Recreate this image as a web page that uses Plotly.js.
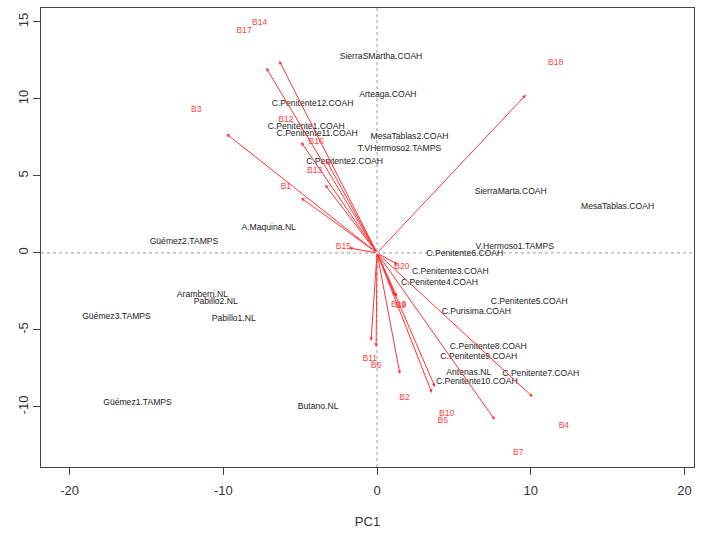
<!DOCTYPE html>
<html><head><meta charset="utf-8">
<script src="https://cdn.plot.ly/plotly-3.0.1.min.js"></script>
<style>html,body{margin:0;padding:0;background:#fff;}</style>
</head><body><div id="chart" style="width:722px;height:533px;"></div>
<script>
// Site scores (PC1, PC2)
const siteNames = ["SierraSMartha.COAH","Arteaga.COAH","C.Penitente12.COAH","C.Penitente1.COAH","C.Penitente11.COAH",
  "MesaTablas2.COAH","T.VHermoso2.TAMPS","C.Penitente2.COAH","SierraMarta.COAH","MesaTablas.COAH","A.Maquina.NL",
  "Güémez2.TAMPS","V.Hermoso1.TAMPS","C.Penitente6.COAH","C.Penitente3.COAH","C.Penitente4.COAH","C.Penitente5.COAH",
  "C.Purisima.COAH","C.Penitente8.COAH","C.Penitente9.COAH","Antenas.NL","C.Penitente7.COAH","C.Penitente10.COAH",
  "Aramberri.NL","Pabillo2.NL","Pabillo1.NL","Güémez3.TAMPS","Güémez1.TAMPS","Butano.NL"];
const siteX = [0.26,0.71,-4.19,-4.61,-3.90,2.11,1.46,-2.11,8.70,15.65,-7.05,-12.56,8.96,5.71,4.77,4.06,9.90,6.46,7.24,6.62,5.97,10.65,6.49,-11.36,-10.49,-9.32,-16.95,-15.58,-3.83];
const siteY = [12.73,10.26,9.68,8.18,7.73,7.53,6.75,5.91,3.96,2.99,1.62,0.71,0.39,-0.06,-1.23,-1.95,-3.18,-3.83,-6.10,-6.75,-7.79,-7.86,-8.38,-2.73,-3.18,-4.29,-4.16,-9.74,-10.00];

// Variable loadings (arrow tips)
const varNames = ["B14","B17","B18","B3","B12","B16","B13","B1","B15","B20","B19","B9","B11","B6","B2","B5","B10","B7","B4"];
const varX = [-6.36,-7.21,9.68,-9.80,-4.94,-3.30,-3.38,-4.94,-1.82,1.35,1.17,1.30,-0.39,-0.06,1.49,3.57,3.77,7.66,10.13];
const varY = [12.47,12.01,10.26,7.73,7.20,6.00,4.42,3.57,0.32,-0.76,-2.79,-2.85,-5.71,-6.10,-7.86,-9.09,-8.70,-10.84,-9.35];
const labelScale = 1.2;

const xTicks = [-20,-10,0,10,20];
const yTicks = [-10,-5,0,5,10,15];

const RED = '#ff3535';
const FONT = 'Liberation Sans, Arial, Helvetica, sans-serif';

const sites = {
  type:'scatter', mode:'text', x:siteX, y:siteY, text:siteNames,
  textposition:'middle center', textfont:{family:FONT, size:8.6, color:'#222'},
  hoverinfo:'skip', showlegend:false, cliponaxis:false
};
const varLabels = {
  type:'scatter', mode:'text', x:varX.map(v=>v*labelScale), y:varY.map(v=>v*labelScale), text:varNames,
  textposition:'middle center', textfont:{family:FONT, size:8.6, color:'#ff4545'},
  hoverinfo:'skip', showlegend:false, cliponaxis:false
};

const arrows = varX.map((vx,i)=>({
  x:vx, y:varY[i], xref:'x', yref:'y', ax:0, ay:0, axref:'x', ayref:'y',
  text:'', showarrow:true, arrowhead:2, arrowsize:0.7, arrowwidth:1, arrowcolor:RED, standoff:0, startstandoff:0
}));

const layout = {
  width:722, height:533,
  margin:{l:41, r:28, t:8, b:66},
  paper_bgcolor:'#fff', plot_bgcolor:'#fff',
  font:{family:FONT, color:'#333'},
  showlegend:false,
  xaxis:{range:[-21.86,20.62], tickvals:xTicks, ticktext:xTicks.map(String), showgrid:false, zeroline:false,
    showline:true, mirror:true, linecolor:'#444', linewidth:1, ticks:'outside', ticklen:7, tickcolor:'#444',
    ticklabelstandoff:4,
    tickfont:{size:13, family:FONT, color:'#333'},
    title:{text:'PC1', font:{size:13, family:FONT, color:'#333'}, standoff:20}},
  yaxis:{range:[-13.9,15.9], tickvals:yTicks, ticktext:yTicks.map(String), showgrid:false, zeroline:false,
    showline:true, mirror:true, linecolor:'#444', linewidth:1, ticks:'outside', ticklen:7, tickcolor:'#444',
    tickangle:-90, tickfont:{size:13, family:FONT, color:'#333'}},
  shapes:[
    {type:'line', xref:'x', yref:'paper', x0:0, x1:0, y0:0, y1:1, line:{color:'#999', width:1, dash:'dot'}, layer:'below'},
    {type:'line', xref:'paper', yref:'y', x0:0, x1:1, y0:0, y1:0, line:{color:'#999', width:1, dash:'dot'}, layer:'below'}
  ],
  annotations:arrows
};

Plotly.newPlot('chart', [sites, varLabels], layout, {staticPlot:true, displayModeBar:false});
</script>
</body></html>
